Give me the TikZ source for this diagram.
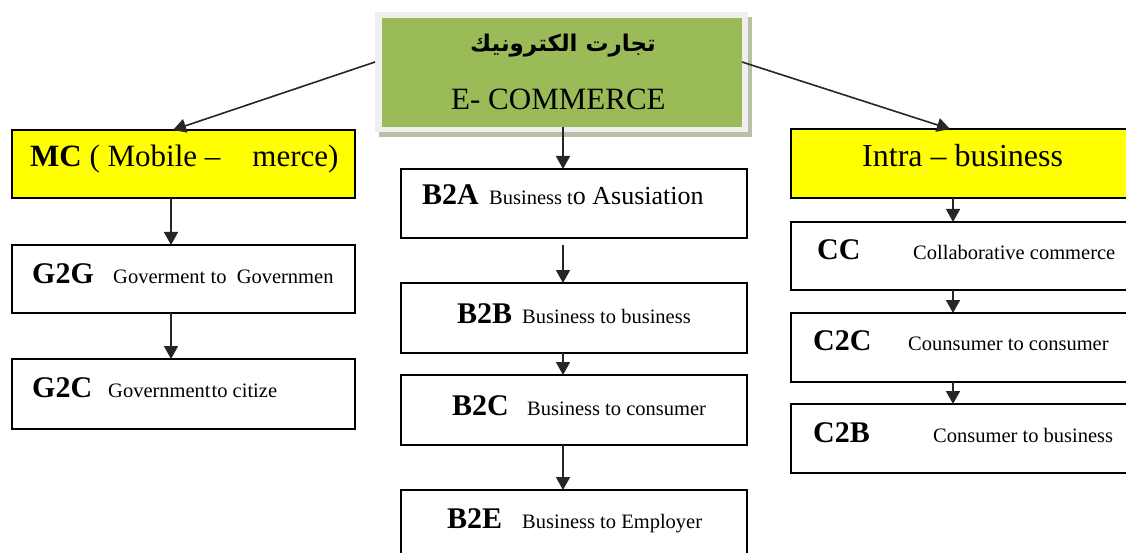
\documentclass[tikz,border=0pt]{standalone}
\usepackage{fontspec}
\setmainfont{Liberation Serif}
\newfontfamily\arabicfont[Script=Arabic]{DejaVu Sans}
\usetikzlibrary{arrows.meta,calc}
\TeXXeTstate=1
\definecolor{ylw}{HTML}{FFFF00}
\definecolor{grn}{HTML}{9BBB59}
\definecolor{framec}{HTML}{EFEFEF}
\definecolor{shadowc}{HTML}{B8C0A8}
\begin{document}
\begin{tikzpicture}[x=1pt,y=-1pt,
  box/.style={draw=black, line width=1.4pt, fill=white, anchor=north west, inner sep=0pt, outer sep=0pt},
  arr/.style={line width=1.6pt, draw=black!85, -{Triangle[length=13pt,width=14pt]}},
  code/.style={anchor=base west, inner sep=0pt, font=\fontsize{30}{34}\selectfont\bfseries},
  desc/.style={anchor=base west, inner sep=0pt, font=\fontsize{20.5}{24}\selectfont},
  big/.style={anchor=base west, inner sep=0pt, font=\fontsize{31}{36}\selectfont},
]
\useasboundingbox (0,0) rectangle (1126,553);
\clip (0,0) rectangle (1126,553);
\fill[white] (0,0) rectangle (1126,553);

% top box
\fill[shadowc] (379,17) rectangle (752,137);
\node[anchor=north west, fill=framec, minimum width=373pt, minimum height=120pt, inner sep=0pt, outer sep=0pt] (top) at (375,12) {};
\node[anchor=north west, fill=grn, minimum width=360pt, minimum height=109pt, inner sep=0pt, outer sep=0pt] (topin) at (382,18) {};

% boxes
\node[box, fill=ylw, minimum width=343pt, minimum height=68pt] (mc) at (12,130) {};
\node[box, minimum width=343pt, minimum height=68pt] (g2g) at (12,245) {};
\node[box, minimum width=343pt, minimum height=70pt] (g2c) at (12,359) {};

\node[box, minimum width=346pt, minimum height=69pt] (b2a) at (401,169) {};
\node[box, minimum width=346pt, minimum height=70pt] (b2b) at (401,283) {};
\node[box, minimum width=346pt, minimum height=70pt] (b2c) at (401,375) {};
\node[box, minimum width=346pt, minimum height=80pt] (b2e) at (401,490) {};

\node[box, fill=ylw, minimum width=360pt, minimum height=69pt] (intra) at (791,129) {};
\node[box, minimum width=360pt, minimum height=68pt] (cc) at (791,222) {};
\node[box, minimum width=360pt, minimum height=69pt] (c2c) at (791,313) {};
\node[box, minimum width=360pt, minimum height=69pt] (c2b) at (791,404) {};

% connectors
\coordinate (lx) at (171,0);
\coordinate (mx) at (563,0);
\coordinate (rx) at (953,0);
\coordinate (tl) at (378,62);
\coordinate (tr) at (745,62);
\coordinate (lin) at (173,0);
\coordinate (rin) at (950,0);

\draw[arr] (top.west |- tl) -- (mc.north -| lin);
\draw[arr] (topin.east |- tr) -- (intra.north -| rin);

\draw[arr] (mc.south -| lx) -- (g2g.north -| lx);
\draw[arr] (g2g.south -| lx) -- (g2c.north -| lx);

\draw[arr] (topin.south -| mx) -- (b2a.north -| mx);
\draw[arr, shorten <=7pt] (b2a.south -| mx) -- (b2b.north -| mx);
\draw[arr] (b2b.south -| mx) -- (b2c.north -| mx);
\draw[arr] (b2c.south -| mx) -- (b2e.north -| mx);

\draw[arr] (intra.south -| rx) -- (cc.north -| rx);
\draw[arr] (cc.south -| rx) -- (c2c.north -| rx);
\draw[arr] (c2c.south -| rx) -- (c2b.north -| rx);

% texts
\node[anchor=base, inner sep=0pt, font=\arabicfont\bfseries\fontsize{23}{27}\selectfont] (ar) at (563,52) {\beginR تجارت الكترونيك\endR};
\node[big] (ec) at (451,110) {E- COMMERCE};

\node[big] (mct) at (30,167) {\textbf{MC} ( Mobile –\hspace{32pt}merce)};
\node[code] (g2gc) at (32,283) {G2G};
\node[desc] (g2gd) at (113,283) {Goverment to\ \ Governmen};
\node[code] (g2cc) at (32,397) {G2C};
\node[desc] (g2cd) at (108,397) {Government\hspace{1pt}to citize};

\node[code] (b2ac) at (422,205) {B2A};
\node[desc] (b2ad) at (489,205) {Business t{\fontsize{26}{30}\selectfont o Asusiation}};
\node[code] (b2bc) at (457,323) {B2B};
\node[desc] (b2bd) at (522,323) {Business to business};
\node[code] (b2cc) at (452,415) {B2C};
\node[desc] (b2cd) at (527,415) {Business to consumer};
\node[code] (b2ec) at (447,528) {B2E};
\node[desc] (b2ed) at (522,528) {Business to Employer};

\node[big, font=\fontsize{32}{36}\selectfont] (intrat) at (862,167) {Intra – business};
\node[code] (ccc) at (817,259) {CC};
\node[desc] (ccd) at (913,259) {Collaborative commerce};
\node[code] (c2cc) at (813,350) {C2C};
\node[desc] (c2cd) at (908,350) {Counsumer to consumer};
\node[code] (c2bc) at (813,442) {C2B};
\node[desc] (c2bd) at (933,442) {Consumer to business};
\end{tikzpicture}
\end{document}
